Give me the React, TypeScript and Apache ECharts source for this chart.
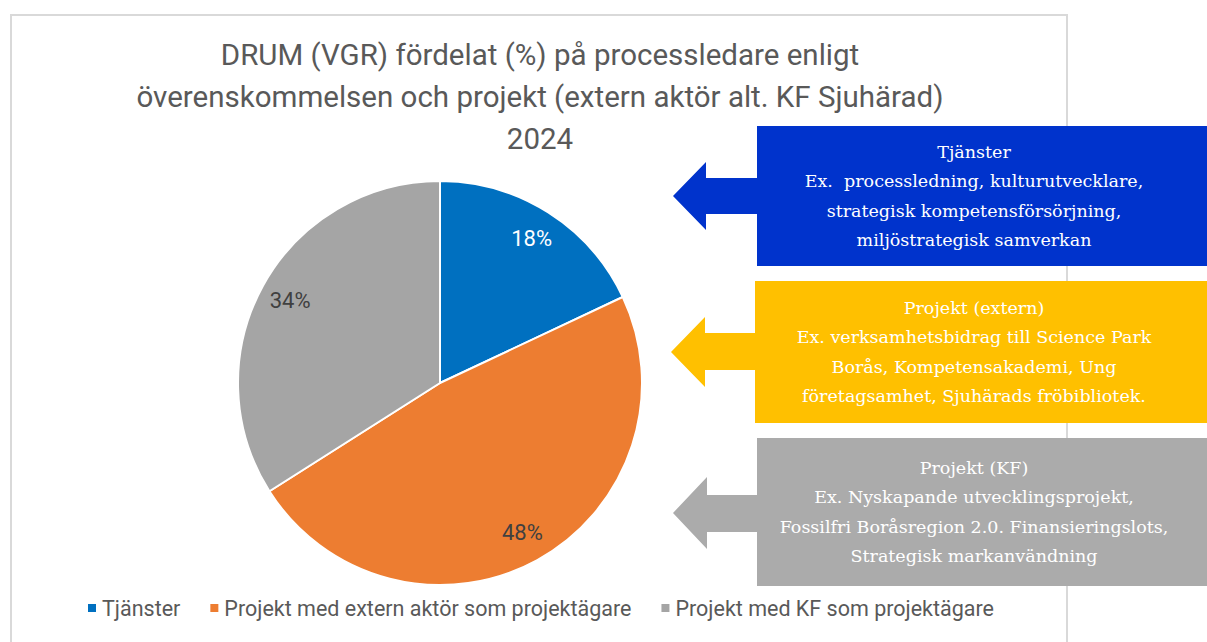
import React, { useEffect, useRef } from "react";
import * as echarts from "echarts";

const titleLines = [
  "DRUM (VGR) fördelat (%) på processledare enligt",
  "överenskommelsen och projekt (extern aktör alt. KF Sjuhärad)",
  "2024",
];
const categories = [
  "Tjänster",
  "Projekt med extern aktör som projektägare",
  "Projekt med KF som projektägare",
];
const values = [18, 48, 34];
const sliceColors = ["#0070C0", "#ED7D31", "#A5A5A5"];
const labelColors = ["#FFFFFF", "#404040", "#404040"];

const boxTexts = [
  [
    "Tjänster",
    "Ex.  processledning, kulturutvecklare,",
    "strategisk kompetensförsörjning,",
    "miljöstrategisk samverkan",
  ],
  [
    "Projekt (extern)",
    "Ex. verksamhetsbidrag till Science Park",
    "Borås, Kompetensakademi, Ung",
    "företagsamhet, Sjuhärads fröbibliotek.",
  ],
  [
    "Projekt (KF)",
    "Ex. Nyskapande utvecklingsprojekt,",
    "Fossilfri Boråsregion 2.0. Finansieringslots,",
    "Strategisk markanvändning",
  ],
];
const boxColors = ["#0033CC", "#FFC000", "#ABABAB"];

// box layout: [left, top, bottom, tipX, headBaseX, headTop, headBottom, shaftTop, shaftBottom]
const boxLayout = [
  [757, 126, 266, 673, 706, 162, 230, 178, 214],
  [755, 281, 423, 671, 705, 317, 387, 333, 370],
  [757, 438, 586, 673, 707, 477, 549, 495, 532],
];

export default function App() {
  const ref = useRef<HTMLDivElement>(null);
  useEffect(() => {
    document.body.style.margin = "0";
    if (!ref.current) return;
    const chart = echarts.init(ref.current, null, { renderer: "svg" });

    const graphics: any[] = [
      {
        type: "rect",
        shape: { x: 11, y: 15, width: 1056, height: 660 },
        style: { fill: "none", stroke: "#D9D9D9", lineWidth: 2 },
        z: 0,
      },
      {
        type: "text",
        x: 540,
        y: 97,
        style: {
          text: titleLines.join("\n"),
          align: "center",
          verticalAlign: "middle",
          fill: "#595959",
          font: "29.5px Roboto",
          lineHeight: 42,
        },
      },
    ];
    boxLayout.forEach((b, i) => {
      const [left, top, bottom, tipX, baseX, hTop, hBot, sTop, sBot] = b;
      const cy = (top + bottom) / 2;
      graphics.push({
        type: "rect",
        shape: { x: left, y: top, width: 1207 - left + 5, height: bottom - top },
        style: { fill: boxColors[i] },
        z: 5,
      });
      graphics.push({
        type: "polygon",
        shape: {
          points: [
            [tipX, (hTop + hBot) / 2],
            [baseX, hTop],
            [baseX, sTop],
            [left + 1, sTop],
            [left + 1, sBot],
            [baseX, sBot],
            [baseX, hBot],
          ],
        },
        style: { fill: boxColors[i] },
        z: 5,
      });
      graphics.push({
        type: "text",
        x: 974,
        y: cy,
        z: 6,
        style: {
          text: boxTexts[i].join("\n"),
          align: "center",
          verticalAlign: "middle",
          fill: "#FFFFFF",
          font: "17.5px 'DejaVu Serif'",
          lineHeight: 29.5,
        },
      });
    });

    chart.setOption({
      animation: false,
      backgroundColor: "#FFFFFF",
      graphic: graphics,
      legend: {
        data: categories,
        left: 81,
        top: 592,
        icon: "rect",
        itemWidth: 10,
        itemHeight: 10,
        itemGap: 28,
        selectedMode: false,
        textStyle: { fontFamily: "Roboto", fontSize: 21.5, color: "#595959" },
      },
      series: [
        {
          type: "pie",
          center: [440, 383],
          radius: 202,
          startAngle: 90,
          clockwise: true,
          label: { show: false },
          labelLine: { show: false },
          itemStyle: { borderColor: "#FFFFFF", borderWidth: 2 },
          emphasis: { disabled: true },
          data: categories.map((name, i) => ({
            name,
            value: values[i],
            itemStyle: { color: sliceColors[i] },
          })),
        },
        {
          type: "pie",
          center: [440, 383],
          radius: [134, 202],
          startAngle: 90,
          clockwise: true,
          silent: true,
          legendHoverLink: false,
          itemStyle: { color: "rgba(0,0,0,0)", borderWidth: 0 },
          emphasis: { disabled: true },
          labelLine: { show: false },
          label: {
            show: true,
            position: "inside",
            fontFamily: "Roboto",
            fontSize: 22,
            formatter: (p: any) => p.value + "%",
          },
          data: categories.map((name, i) => ({
            name: name + " ",
            value: values[i],
            label: { color: labelColors[i] },
          })),
        },
      ],
    });
    return () => chart.dispose();
  }, []);
  return <div ref={ref} style={{ width: 1207, height: 642 }} />;
}
